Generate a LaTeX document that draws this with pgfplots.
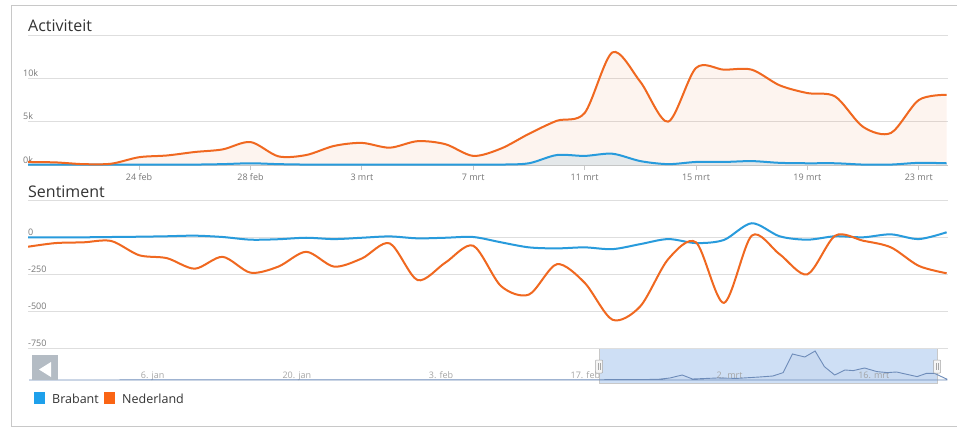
\documentclass[border=0pt]{standalone}
\usepackage{pgfplots}
\pgfplotsset{compat=1.18}
\usepackage{pgfplotstable}
\usepackage{fontspec}
\setmainfont{Open Sans}
\definecolor{bluec}{RGB}{40,155,220}
\definecolor{orangec}{RGB}{240,104,32}
\definecolor{legblue}{RGB}{30,160,235}
\definecolor{legorange}{RGB}{250,100,20}
\definecolor{gridgray}{RGB}{222,222,222}
\definecolor{axisgray}{RGB}{200,200,200}
\definecolor{ticklab}{RGB}{120,120,120}
\definecolor{navlab}{RGB}{165,165,165}
\definecolor{navline}{RGB}{110,140,185}
\definecolor{selfill}{RGB}{206,223,245}
\definecolor{titlec}{RGB}{51,51,51}
\definecolor{framec}{RGB}{200,200,200}
\definecolor{btngray}{RGB}{180,188,196}

% Activiteit (k), day index: 0 = 24 feb
\pgfplotstableread{
d v
-4 0.35
-3 0.3
-2 0.1
-1 0.15
0 0.9
1 1.1
2 1.5
3 1.8
4 2.65
5 1.0
6 1.15
7 2.2
8 2.55
9 2.0
10 2.75
11 2.4
12 1.05
13 1.9
14 3.6
15 5.1
16 6.0
17 13.0
18 9.6
19 5.0
20 11.2
21 11.0
22 11.0
23 9.2
24 8.3
25 7.9
26 4.4
27 3.7
28 7.5
29 8.1
}\actNL
\pgfplotstableread{
d v
-4 0.05
-3 0.05
-2 0.05
-1 0.05
0 0.05
1 0.05
2 0.05
3 0.1
4 0.2
5 0.1
6 0.05
7 0.05
8 0.05
9 0.05
10 0.05
11 0.05
12 0.05
13 0.05
14 0.2
15 1.15
16 1.05
17 1.3
18 0.45
19 0.1
20 0.35
21 0.35
22 0.45
23 0.25
24 0.2
25 0.2
26 0.05
27 0.05
28 0.25
29 0.2
}\actBR
% Sentiment
\pgfplotstableread{
d v
-4 -66
-3 -41
-2 -36
-1 -27
0 -123
1 -143
2 -214
3 -134
4 -241
5 -200
6 -100
7 -200
8 -145
9 -43
10 -291
11 -173
12 -59
13 -332
14 -389
15 -184
16 -309
17 -559
18 -468
19 -150
20 -36
21 -445
22 9
23 -116
24 -252
25 9
26 -25
27 -70
28 -195
29 -245
}\senNL
\pgfplotstableread{
d v
-4 -2
-3 -2
-2 -2
-1 0
0 2
1 5
2 9
3 0
4 -18
5 -15
6 -5
7 -14
8 -5
9 4
10 -9
11 -5
12 0
13 -36
14 -70
15 -77
16 -70
17 -82
18 -48
19 -14
20 -41
21 -20
22 93
23 5
24 -18
25 5
26 -2
27 18
28 -14
29 32
}\senBR
% Navigator (day of year)
\pgfplotstableread{
d v
-6 0
0 0
10 0.1
20 0.1
30 0.1
40 0.1
48 0.1
55 0.3
56.2 1
57.4 2.5
58.4 0.5
60.8 1
62.7 0.8
64.9 1.5
66.2 2
67.2 3.7
68.1 13
69.3 11.5
70.3 14.5
71.2 6.7
72.2 2.5
73.2 5
74.0 4.7
75.1 6
76.3 4.2
77.3 3.7
78.2 4
80.2 1.7
81.1 3.3
81.9 3.3
83.1 0.4
}\nav

\begin{document}
\begin{tikzpicture}[x=1pt,y=1pt]
\fill[white] (0,0) rectangle (957,-428);
\draw[framec, line width=1pt] (957,-6) -- (11,-6) -- (11,-426) -- (957,-426);

\node[anchor=base west, inner sep=0pt, text=titlec, font=\fontsize{16}{19}\selectfont] at (28,-32) {Activiteit};
\node[anchor=base west, inner sep=0pt, text=titlec, font=\fontsize{16}{19}\selectfont] at (28,-197) {Sentiment};

\pgfplotsset{every axis/.append style={
  scale only axis, width=920pt,
  grid style={gridgray, line width=0.8pt},
  yticklabel style={anchor=base west, inner sep=0pt, xshift=0pt, yshift=2pt, text=ticklab, font=\fontsize{9}{10}\selectfont},
}}

% Activiteit
\begin{axis}[
  at={(28pt,-165pt)}, anchor=south west, height=130pt,
  xmin=-3.99, xmax=29.05, ymin=0, ymax=15,
  axis x line*=bottom, axis y line*=left,
  y axis line style={draw=none},
  x axis line style={draw=axisgray, line width=1pt},
  xtick={0,4,...,28},
  xticklabels={24 feb,28 feb,3 mrt,7 mrt,11 mrt,15 mrt,19 mrt,23 mrt},
  tick align=outside, major tick length=5pt,
  xtick style={draw=axisgray, line width=0.8pt},
  xticklabel style={anchor=base, inner sep=0pt, yshift=-10pt, text=ticklab, font=\fontsize{9}{10}\selectfont},
  ytick={0,5,10,15}, yticklabels={0k,5k,10k,},
  ytick style={draw=none},
  ymajorgrids,
]
\addplot[draw=none, fill=bluec, fill opacity=0.12, smooth, tension=0.5] table {\actBR} \closedcycle;
\addplot[draw=none, fill=orangec, fill opacity=0.07, smooth, tension=0.5] table {\actNL} \closedcycle;
\addplot[bluec, line width=2pt, smooth, tension=0.5] table {\actBR};
\addplot[orangec, line width=2pt, smooth, tension=0.5] table {\actNL};
\end{axis}

% Sentiment
\begin{axis}[
  at={(28pt,-348pt)}, anchor=south west, height=148pt,
  xmin=-3.99, xmax=29.05, ymin=-750, ymax=250,
  axis x line*=bottom, axis y line*=left,
  axis line style={draw=none},
  xtick=\empty,
  ytick={-750,-500,-250,0,250}, yticklabels={-750,-500,-250,0,},
  ytick style={draw=none},
  ymajorgrids,
]
\addplot[bluec, line width=2pt, smooth, tension=0.5] table {\senBR};
\addplot[orangec, line width=2pt, smooth, tension=0.5] table {\senNL};
\end{axis}

% Navigator
\fill[selfill] (599,-349) rectangle (937,-383);
\draw[axisgray, line width=0.6pt] (599,-349) -- (599,-383) -- (937,-383) -- (937,-349);
\begin{axis}[
  at={(28pt,-383pt)}, anchor=south west, height=34pt,
  xmin=-6.1, xmax=83.2, ymin=-1.5, ymax=15.5,
  axis x line*=bottom, axis y line*=left,
  axis line style={draw=none},
  ytick=\empty,
  xtick={6,20,34,48,62,76},
  xticklabels={6. jan,20. jan,3. feb,17. feb,2. mrt,16. mrt},
  xtick style={draw=none},
  xticklabel style={anchor=base, inner sep=0pt, yshift=5pt, text=navlab, font=\fontsize{9}{10}\selectfont},
]
\addplot[navline, line width=0.9pt, fill=navline, fill opacity=0.05] table {\nav} \closedcycle;
\end{axis}
% handles
\foreach \hx in {599,937} {
  \filldraw[fill=gray!8, draw=gray!70, line width=0.5pt, rounded corners=0.8pt] (\hx-3.5,-360) rectangle (\hx+3.5,-373);
  \draw[gray!70, line width=0.5pt] (\hx-1,-363) -- (\hx-1,-370) (\hx+1,-363) -- (\hx+1,-370);
}
% scroll button
\fill[btngray] (32,-355) rectangle (58,-380);
\fill[white] (39,-369.5) -- (51,-362) -- (51,-377) -- cycle;

% legend
\fill[legblue] (34,-392) rectangle (45,-404);
\node[anchor=base west, inner sep=0pt, text=titlec, font=\fontsize{12.5}{15}\selectfont] at (52,-403) {Brabant};
\fill[legorange] (104,-392) rectangle (115,-404);
\node[anchor=base west, inner sep=0pt, text=titlec, font=\fontsize{12.5}{15}\selectfont] at (122,-403) {Nederland};
\pgfresetboundingbox
\path[use as bounding box] (0,0) rectangle (957,-428);
\end{tikzpicture}
\end{document}
